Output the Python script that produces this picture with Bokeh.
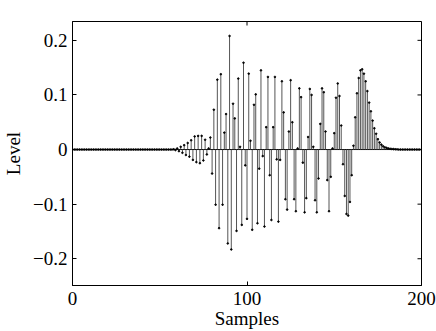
import math
from bokeh.plotting import figure
from bokeh.models import FixedTicker, Range1d, ColumnDataSource
from bokeh.embed import file_html
from bokeh.resources import INLINE

# ---- data ----
samples = list(range(200))
level = [
    0.0, 0.0, 0.0, 0.0, 0.0, 0.0, 0.0, 0.0, 0.0, 0.0,
    0.0, 0.0, 0.0, 0.0, 0.0, 0.0, 0.0, 0.0, 0.0, 0.0,
    0.0, 0.0, 0.0, 0.0, 0.0, 0.0, 0.0, 0.0, 0.0, 0.0,
    0.0, 0.0, 0.0, 0.0, 0.0, 0.0, 0.0, 0.0, 0.0, 0.0,
    0.0, 0.0, 0.0, 0.0, 0.0, 0.0, 0.0, 0.0, 0.0, 0.0,
    0.0, 0.0, 0.0, 0.0, 0.0, 0.0, 0.0, 0.0, 0.0005, -0.001,
    0.002, -0.003, 0.005, -0.006, 0.008, -0.010, 0.012, -0.013, 0.017, -0.019,
    0.024, -0.023, 0.025, -0.025, 0.025, -0.020, 0.018, -0.009, 0.002, 0.022,
    -0.044, 0.073, -0.101, 0.128, -0.144, 0.138, -0.101, 0.031, 0.065, -0.172,
    0.208, -0.183, 0.084, 0.057, -0.149, 0.130, 0.005, -0.138, 0.159, -0.029,
    -0.127, 0.139, 0.016, -0.147, 0.082, 0.101, -0.135, -0.035, 0.145, -0.012,
    -0.141, 0.041, 0.133, -0.047, -0.129, 0.041, 0.133, -0.018, -0.132, -0.019,
    0.125, 0.068, -0.091, -0.110, 0.033, 0.127, 0.050, -0.091, -0.113, 0.002,
    0.112, 0.096, -0.024, -0.115, -0.089, 0.023, 0.111, 0.100, 0.005, -0.093,
    -0.115, -0.053, 0.047, 0.112, 0.105, 0.033, -0.056, -0.113, -0.050, 0.002,
    0.030, 0.095, 0.121, 0.098, 0.044, -0.027, -0.085, -0.118, -0.121, -0.096,
    -0.047, 0.007, 0.059, 0.103, 0.131, 0.145, 0.147, 0.139, 0.125, 0.107,
    0.086, 0.070, 0.053, 0.039, 0.029, 0.019, 0.013, 0.009, 0.006, 0.004,
    0.003, 0.002, 0.0015, 0.001, 0.0008, 0.0005, 0.0003, 0.0, 0.0, 0.0,
    0.0, 0.0, 0.0, 0.0, 0.0, 0.0, 0.0, 0.0, 0.0, 0.0,
]
x_ticks = [0, 100, 200]
y_ticks = [-0.2, -0.1, 0, 0.1, 0.2]
y_tick_labels = {-0.2: "\u22120.2", -0.1: "\u22120.1", 0: "0", 0.1: "0.1", 0.2: "0.2"}

FONT = "Liberation Serif"
FS = "19px"
X_MIN, X_MAX = 0, 200
Y_MIN, Y_MAX = -0.249, 0.2345

p = figure(width=436, height=331, output_backend="svg", toolbar_location=None,
           x_range=Range1d(X_MIN, X_MAX), y_range=Range1d(Y_MIN, Y_MAX),
           min_border_left=72, min_border_right=15, min_border_top=21, min_border_bottom=44)
p.grid.visible = False
p.outline_line_color = "black"
p.outline_line_width = 1
p.background_fill_color = "white"
p.border_fill_color = "white"

src = ColumnDataSource(dict(x=samples, y=level, z=[0.0] * len(samples)))
# baseline
p.line(x=[X_MIN, X_MAX], y=[0, 0], line_color="black", line_width=1)
p.segment(x0="x", y0="z", x1="x", y1="y", source=src, line_color="#555555", line_width=1)
p.scatter(x="x", y="y", source=src, size=1.6, color="black", marker="circle")

# mirrored inward ticks on the right and top edges (half of each dash is clipped by the frame)
p.scatter(x=[X_MAX] * len(y_ticks), y=y_ticks, marker="dash", size=8,
          line_color="black", line_width=1)
p.scatter(x=x_ticks, y=[Y_MAX] * len(x_ticks), marker="dash", size=8, angle=math.pi / 2,
          line_color="black", line_width=1)

def style(ax):
    ax.axis_line_color = "black"
    ax.major_tick_line_color = "black"
    ax.major_tick_in = 4
    ax.major_tick_out = 0
    ax.minor_tick_line_color = None
    ax.major_label_text_font = FONT
    ax.major_label_text_font_size = FS
    ax.major_label_text_color = "black"
    ax.axis_label_text_font = FONT
    ax.axis_label_text_font_size = FS
    ax.axis_label_text_font_style = "normal"
    ax.axis_label_text_color = "black"

xa = p.xaxis[0]
xa.ticker = FixedTicker(ticks=x_ticks)
xa.axis_label = "Samples"
xa.major_label_standoff = 6
xa.axis_label_standoff = 0
style(xa)

ya = p.yaxis[0]
ya.ticker = FixedTicker(ticks=y_ticks)
ya.major_label_overrides = y_tick_labels
ya.axis_label = "Level"
ya.major_label_standoff = 5
ya.axis_label_standoff = 6
style(ya)

open("out.html", "w").write(file_html(p, INLINE))
